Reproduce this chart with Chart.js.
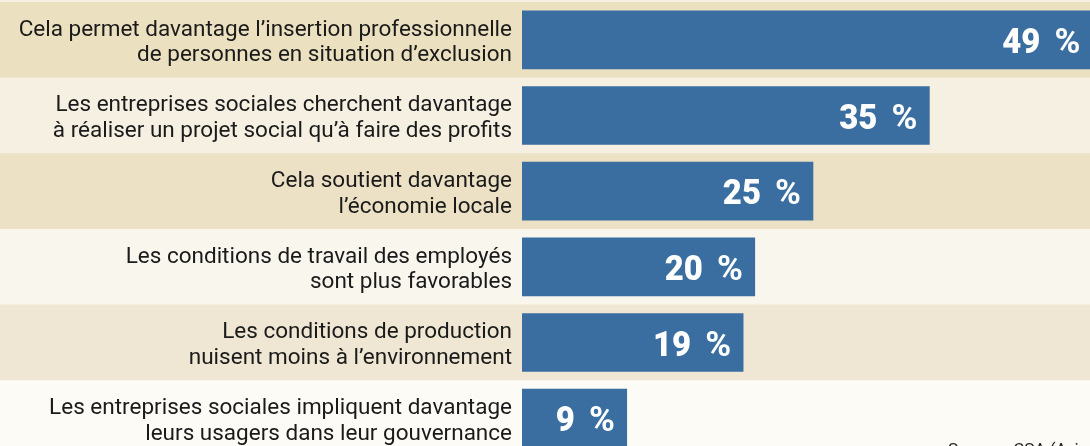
<!DOCTYPE html>
<html lang="fr">
<head>
<meta charset="utf-8">
<title>Entreprises sociales</title>
<script src="https://cdn.jsdelivr.net/npm/chart.js@4/dist/chart.umd.min.js"></script>
<style>
    html, body { margin: 0; padding: 0; background: #fcfbf5; overflow: hidden; }
    #wrap { position: relative; width: 1090px; height: 458px; }
</style>
</head>
<body>
<div id="wrap"><canvas id="chart"></canvas></div>
<script>
// Catégories (libellés sur deux lignes)
var categories = [
    ['Cela permet davantage l\u2019insertion professionnelle', 'de personnes en situation d\u2019exclusion'],
    ['Les entreprises sociales cherchent davantage', '\u00e0 r\u00e9aliser un projet social qu\u2019\u00e0 faire des profits'],
    ['Cela soutient davantage', 'l\u2019\u00e9conomie locale'],
    ['Les conditions de travail des employ\u00e9s', 'sont plus favorables'],
    ['Les conditions de production', 'nuisent moins \u00e0 l\u2019environnement'],
    ['Les entreprises sociales impliquent davantage', 'leurs usagers dans leur gouvernance']
];
// Part des répondants (%)
var values = [49, 35, 25, 20, 19, 9];
var sourceText = 'Source : CSA (Avise)';

(function () {
    var rowColors = ['#ebe0c0', '#f5f0e2', '#ece1c5', '#f9f6ed', '#efe7d3', '#fcfbf6'];

    var rowBands = {
        id: 'rowBands',
        beforeDraw: function (chart) {
            var ctx = chart.ctx;
            var y = chart.scales.y;
            var band = (y.getPixelForValue(1) - y.getPixelForValue(0));
            ctx.save();
            ctx.fillStyle = rowColors[1];
            ctx.fillRect(0, 0, chart.width, chart.height);
            for (var i = 0; i < categories.length; i++) {
                var c = y.getPixelForValue(i);
                ctx.fillStyle = rowColors[i];
                ctx.fillRect(0, c - band / 2, chart.width, band + (i === categories.length - 1 ? 20 : 0));
            }
            ctx.restore();
        }
    };

    // valeur en gras + signe % à droite, dans la barre
    var valueLabels = {
        id: 'valueLabels',
        afterDatasetsDraw: function (chart) {
            var ctx = chart.ctx;
            var meta = chart.getDatasetMeta(0);
            ctx.save();
            ctx.fillStyle = '#ffffff';
            ctx.textAlign = 'right';
            ctx.textBaseline = 'alphabetic';
            meta.data.forEach(function (bar, i) {
                var base = bar.y + 13;
                ctx.font = 'bold 35px Roboto, sans-serif';
                ctx.fillText('%', bar.x - 12, base);
                ctx.save();
                ctx.translate(bar.x - 52, base);
                ctx.scale(0.94, 1);
                ctx.font = '900 35px Roboto, sans-serif';
                ctx.fillText(String(values[i]), 0, 0);
                ctx.restore();
            });
            ctx.fillStyle = '#222222';
            ctx.font = '17px Roboto, sans-serif';
            ctx.textAlign = 'left';
            ctx.textBaseline = 'top';
            ctx.fillText(sourceText, 948, 442);
            ctx.restore();
        }
    };

    new Chart(document.getElementById('chart').getContext('2d'), {
        type: 'bar',
        data: {
            labels: categories,
            datasets: [{
                data: values,
                backgroundColor: '#3a6ea0',
                barThickness: 58,
                borderWidth: 0
            }]
        },
        options: {
            indexAxis: 'y',
            responsive: true,
            maintainAspectRatio: false,
            animation: false,
            layout: { padding: { top: 2, bottom: 2, left: 0, right: 0 } },
            plugins: {
                legend: { display: false },
                tooltip: { enabled: false }
            },
            scales: {
                x: {
                    display: false,
                    min: 0,
                    max: 48.8
                },
                y: {
                    grid: { display: false, drawTicks: false },
                    border: { display: false },
                    afterFit: function (scale) {
                        scale.width = 522;
                        scale.paddingTop = 0;
                        scale.paddingBottom = 0;
                    },
                    ticks: {
                        padding: 10,
                        labelOffset: 3,
                        color: '#1a1a1a',
                        font: { family: 'Roboto, sans-serif', size: 22.5, lineHeight: 1.15 }
                    }
                }
            }
        },
        plugins: [rowBands, valueLabels]
    });
})();
</script>
</body>
</html>
